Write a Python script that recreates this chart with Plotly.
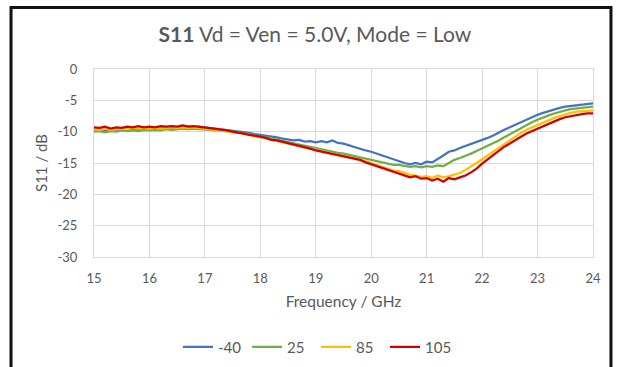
import plotly.graph_objects as go

# Frequency sweep, 15 to 24 GHz in 0.1 GHz steps
freq_ghz = [round(15 + 0.1 * i, 1) for i in range(91)]

# S11 (dB) for each temperature setting
s11_m40 = [
    -9.7, -9.6, -9.8, -9.6, -9.7, -9.5, -9.6, -9.5, -9.6, -9.4,
    -9.5, -9.4, -9.5, -9.3, -9.4, -9.3, -9.4, -9.2, -9.3, -9.2,
    -9.3, -9.4, -9.5, -9.6, -9.7, -9.8, -9.9, -10.1, -10.2, -10.4,
    -10.5, -10.6, -10.8, -10.9, -11.1, -11.2, -11.4, -11.3, -11.6, -11.5,
    -11.7, -11.5, -11.7, -11.4, -11.8, -11.9, -12.2, -12.5, -12.7, -13.0,
    -13.2, -13.5, -13.8, -14.1, -14.5, -14.7, -15.0, -15.2, -15.0, -15.2,
    -14.8, -14.9, -14.4, -13.8, -13.2, -13.0, -12.6, -12.3, -12.0, -11.7,
    -11.4, -11.0, -10.6, -10.1, -9.7, -9.3, -8.9, -8.4, -8.0, -7.7,
    -7.3, -7.0, -6.7, -6.4, -6.2, -6.0, -5.9, -5.7, -5.6, -5.6,
    -5.5,
]
s11_25 = [
    -10.0, -9.9, -10.1, -9.9, -10.0, -9.8, -9.9, -9.8, -9.9, -9.7,
    -9.8, -9.7, -9.8, -9.6, -9.7, -9.6, -9.5, -9.6, -9.5, -9.6,
    -9.6, -9.7, -9.8, -9.8, -9.9, -10.0, -10.1, -10.3, -10.4, -10.6,
    -10.7, -10.9, -11.1, -11.3, -11.5, -11.7, -11.9, -12.1, -12.3, -12.5,
    -12.7, -12.9, -13.0, -13.2, -13.4, -13.5, -13.7, -13.9, -14.0, -14.2,
    -14.4, -14.6, -14.8, -15.0, -15.3, -15.3, -15.5, -15.6, -15.5, -15.7,
    -15.5, -15.6, -15.4, -15.5, -15.0, -14.5, -14.2, -13.9, -13.5, -13.1,
    -12.7, -12.3, -11.9, -11.4, -10.9, -10.4, -9.9, -9.5, -9.0, -8.5,
    -8.1, -7.7, -7.4, -7.1, -6.8, -6.6, -6.4, -6.3, -6.2, -6.1,
    -6.0,
]
s11_85 = [
    -9.6, -9.7, -9.5, -9.7, -9.6, -9.5, -9.6, -9.4, -9.5, -9.4,
    -9.5, -9.4, -9.5, -9.4, -9.3, -9.4, -9.3, -9.4, -9.3, -9.4,
    -9.5, -9.6, -9.7, -9.8, -9.9, -10.0, -10.2, -10.3, -10.5, -10.7,
    -10.8, -11.0, -11.2, -11.4, -11.6, -11.8, -12.0, -12.2, -12.4, -12.6,
    -12.9, -13.1, -13.3, -13.4, -13.6, -13.8, -14.0, -14.2, -14.4, -14.7,
    -15.0, -15.3, -15.6, -15.8, -16.2, -16.3, -16.6, -16.9, -17.0, -17.2,
    -17.1, -17.4, -17.0, -17.3, -17.1, -16.9, -16.6, -16.1, -15.6, -15.0,
    -14.4, -13.8, -13.2, -12.5, -11.9, -11.3, -10.7, -10.2, -9.7, -9.3,
    -8.9, -8.5, -8.1, -7.8, -7.5, -7.2, -7.0, -6.8, -6.7, -6.6,
    -6.6,
]
s11_105 = [
    -9.3, -9.4, -9.2, -9.5, -9.3, -9.4, -9.2, -9.3, -9.1, -9.3,
    -9.2, -9.3, -9.1, -9.2, -9.1, -9.2, -9.0, -9.2, -9.1, -9.2,
    -9.3, -9.4, -9.6, -9.7, -9.8, -10.0, -10.1, -10.3, -10.5, -10.6,
    -10.8, -11.0, -11.3, -11.4, -11.6, -11.9, -12.0, -12.3, -12.5, -12.7,
    -13.0, -13.2, -13.3, -13.6, -13.7, -14.0, -14.1, -14.4, -14.5, -14.9,
    -15.2, -15.4, -15.8, -16.0, -16.4, -16.6, -16.9, -17.3, -17.1, -17.5,
    -17.4, -17.8, -17.5, -18.0, -17.4, -17.6, -17.3, -17.0, -16.5, -15.9,
    -15.1, -14.4, -13.7, -13.0, -12.4, -11.9, -11.3, -10.8, -10.3, -9.9,
    -9.5, -9.1, -8.7, -8.3, -8.0, -7.7, -7.5, -7.3, -7.2, -7.1,
    -7.1,
]

series_names = ["-40", "25", "85", "105"]
series_values = [s11_m40, s11_25, s11_85, s11_105]
series_colors = ["#4472C4", "#70AD47", "#FFC000", "#D00000"]

x_ticks = list(range(15, 25))
y_ticks = list(range(-30, 1, 5))
y_tick_text = [str(v) for v in y_ticks]

font_family = "Lato, 'Open Sans', sans-serif"
text_grey = "#595959"

fig = go.Figure()
for name, vals, color in zip(series_names, series_values, series_colors):
    fig.add_trace(go.Scatter(
        x=freq_ghz, y=vals, name=name, mode="lines",
        line=dict(color=color, width=2.25),
    ))

axis_common = dict(
    showgrid=True, gridcolor="#d9d9d9", gridwidth=1,
    showline=True, linecolor="#d9d9d9", linewidth=1, mirror=True,
    zeroline=False, ticks="", automargin=False,
    tickfont=dict(size=13, color=text_grey),
)

fig.update_layout(
    width=621, height=367,
    margin=dict(l=94, r=28, t=69, b=110),
    paper_bgcolor="white", plot_bgcolor="white",
    font=dict(family=font_family, color=text_grey),
    title=dict(
        text="<b>S11</b> Vd = Ven = 5.0V, Mode = Low",
        x=0.507, xanchor="center", y=0.905, yanchor="middle",
        font=dict(size=21, color=text_grey),
    ),
    xaxis=dict(
        range=[15, 24], tickvals=x_ticks, ticklabelstandoff=9,
        title=dict(text="Frequency / GHz", font=dict(size=15.5, color=text_grey), standoff=11),
        **axis_common,
    ),
    yaxis=dict(
        range=[-30, 0], tickvals=y_ticks, ticktext=y_tick_text, ticklabelstandoff=13,
        title=dict(text="S11 / dB", font=dict(size=15, color=text_grey), standoff=6),
        **axis_common,
    ),
    legend=dict(
        orientation="h", x=(178 - 94) / 499, xanchor="left",
        yref="container", y=0.054, yanchor="middle",
        font=dict(size=15, color=text_grey), itemwidth=30,
        entrywidth=24, entrywidthmode="pixels",
        bgcolor="rgba(0,0,0,0)",
        traceorder="normal",
    ),
    shapes=[dict(
        type="rect", xref="paper", yref="paper",
        x0=-0.1663, x1=1.036, y0=-0.7, y1=1.327,
        line=dict(color="#111111", width=3), fillcolor="rgba(0,0,0,0)",
        layer="above",
    )],
)

fig.write_html("out.html")
